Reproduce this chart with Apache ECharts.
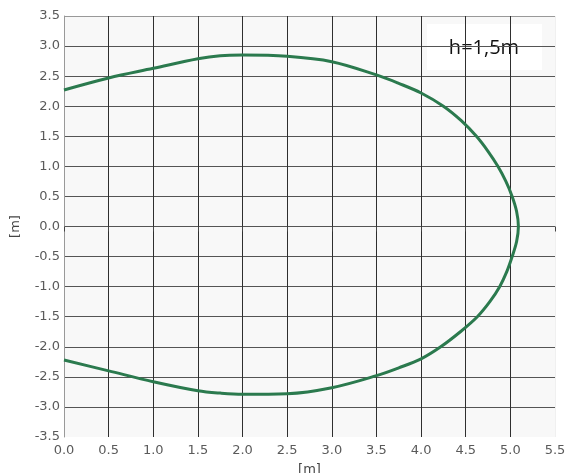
<!DOCTYPE html>
<html>
<head>
<meta charset="utf-8">
<script src="https://cdn.jsdelivr.net/npm/echarts@6/dist/echarts.min.js"></script>
<style>html,body{margin:0;padding:0;background:#fff;}#c{width:568px;height:473px;}</style>
</head>
<body>
<div id="c"></div>
<script>
// Contour points [x (m), y (m)], traced from upper-left around the tip to lower-left
const contourX = [0, 0.5, 1.0, 1.5, 1.75, 2.0, 2.5, 3.0, 3.5, 3.75, 4.0, 4.25, 4.45, 4.62, 4.75, 4.86, 4.95, 5.02, 5.07, 5.09, 5.07, 5.02, 4.96, 4.88, 4.77, 4.63, 4.44, 4.22, 4.0, 3.75, 3.5, 3.0, 2.5, 2.0, 1.75, 1.5, 1.0, 0.5, 0];
const contourY = [2.27, 2.47, 2.63, 2.79, 2.84, 2.85, 2.83, 2.74, 2.52, 2.38, 2.22, 2.0, 1.76, 1.5, 1.25, 1.0, 0.75, 0.5, 0.25, 0.0, -0.25, -0.5, -0.75, -1.0, -1.25, -1.5, -1.75, -2.0, -2.2, -2.35, -2.48, -2.68, -2.78, -2.79, -2.77, -2.73, -2.58, -2.4, -2.22];
const xTicks = { min: 0, max: 5.5, step: 0.5 };
const yTicks = { min: -3.5, max: 3.5, step: 0.5 };
const labelText = 'h=1,5m';
const axisUnit = '[m]';

const chart = echarts.init(document.getElementById('c'), null, { renderer: 'canvas' });
const pts = contourX.map((x, i) => [x, contourY[i]]);
const nX = Math.round((xTicks.max - xTicks.min) / xTicks.step) + 1;
const nY = Math.round((yTicks.max - yTicks.min) / yTicks.step) + 1;
const xLineColors = [];
for (let i = 0; i < nX; i++) xLineColors.push(i === nX - 1 ? 'rgba(0,0,0,0.06)' : '#2f2f2f');
const yLineColors = [];
for (let i = 0; i < nY; i++) yLineColors.push(i === 0 ? 'rgba(0,0,0,0)' : (i === nY - 1 ? '#999' : '#555'));

const labelFont = { fontFamily: 'DejaVu Sans', fontSize: 13, color: '#5a5a5a' };
chart.setOption({
  animation: false,
  backgroundColor: '#fff',
  grid: { left: 64, right: 13, top: 16, bottom: 36, outerBoundsMode: 'none', containLabel: false, show: true, backgroundColor: '#f8f8f8', borderWidth: 0 },
  xAxis: {
    type: 'value', min: xTicks.min, max: xTicks.max, interval: xTicks.step,
    name: axisUnit, nameLocation: 'middle', nameGap: 26,
    nameTextStyle: { fontFamily: 'DejaVu Sans', fontSize: 13, color: '#444', verticalAlign: 'top' },
    axisLine: { show: false },
    axisTick: { show: true, length: 5, lineStyle: { color: '#444' } },
    axisLabel: Object.assign({ margin: 7, formatter: v => v.toFixed(1) }, labelFont),
    splitLine: { show: true, lineStyle: { color: xLineColors, width: 1 } }
  },
  yAxis: {
    type: 'value', min: yTicks.min, max: yTicks.max, interval: yTicks.step,
    name: axisUnit, nameLocation: 'middle', nameGap: 42, nameRotate: 90,
    nameTextStyle: { fontFamily: 'DejaVu Sans', fontSize: 13, color: '#444' },
    axisLine: { show: true, onZero: false, lineStyle: { color: '#999', width: 1 } },
    axisTick: { show: false },
    axisLabel: Object.assign({ margin: 4, formatter: v => v.toFixed(1) }, labelFont),
    splitLine: { show: true, lineStyle: { color: yLineColors, width: 1 } }
  },
  graphic: [{
    type: 'group', left: 427, top: 24,
    children: [
      { type: 'rect', shape: { x: 0, y: 0, width: 115, height: 46 }, style: { fill: '#fff' } },
      { type: 'text', x: 57, y: 24, style: { text: labelText, font: '20px "Open Sans"', fill: '#111', align: 'center', verticalAlign: 'middle' } }
    ]
  }],
  series: [{
    type: 'line', data: pts, smooth: 0.35, showSymbol: false, symbol: 'none',
    lineStyle: { color: '#2b7a4e', width: 3 }
  }]
});
</script>
</body>
</html>
